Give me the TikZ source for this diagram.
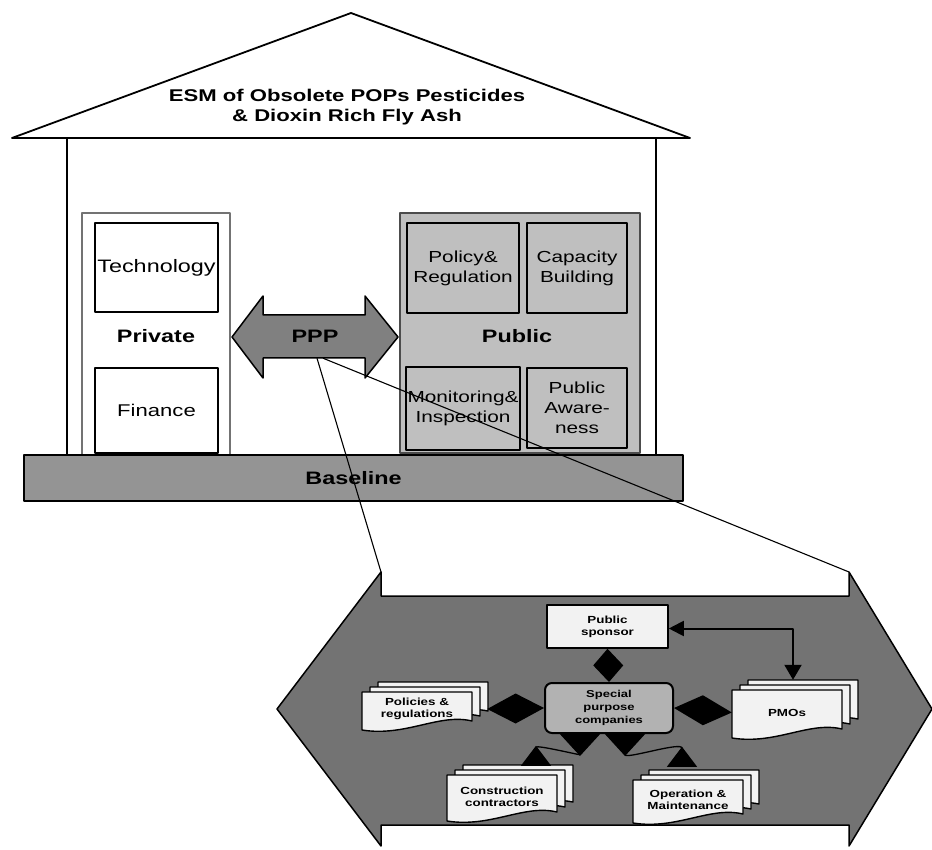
\documentclass[tikz,border=0pt]{standalone}
\usepackage{fontspec}
\setmainfont{Liberation Sans}[FakeStretch=1.3]
\usetikzlibrary{arrows.meta,calc}

% one page of a stacked document: x1 y1 (top left), x2 (right), y2 (bottom left)
\newcommand{\docpage}[4]{%
  \filldraw[docpage] ({#1},{#2}) -- ({#3},{#2}) -- ({#3},{#4-9})
    .. controls ({#3-0.3*(#3-#1)},{#4-17}) and ({#1+0.4*(#3-#1)},{#4+7}) .. ({#1},{#4}) -- cycle;}
% three pages, the back ones shifted up and to the right
\newcommand{\docstack}[4]{%
  \docpage{#1+16}{#2-10}{#3+16}{#4-10}%
  \docpage{#1+8}{#2-5}{#3+8}{#4-5}%
  \docpage{#1}{#2}{#3}{#4}}
% two-headed block arrow from tip #1 to tip #2, #3 = half width (x offset), #4 = half width (y offset)
\newcommand{\blockpair}[4]{%
  \fill[black] (#1) -- ($(#1)!0.5!(#2)+(#3,#4)$) -- (#2) -- ($(#1)!0.5!(#2)-(#3,#4)$) -- cycle;}

\begin{document}
\begin{tikzpicture}[x=1pt,y=-1pt,
  line join=round,
  docpage/.style={draw=black,line width=1.4pt,fill=black!5},
  inbox/.style={draw=black,line width=1.6pt,inner sep=0pt,align=center},
  bigtxt/.style={font=\fontsize{18}{21}\selectfont},
  midtxt/.style={font=\fontsize{16}{20}\selectfont,align=center},
  boldtxt/.style={font=\bfseries\fontsize{18}{21}\selectfont},
  smalltxt/.style={font=\bfseries\fontsize{10.3}{12}\selectfont,align=center,inner sep=0pt},
  splitarr/.style={draw=black,line width=1.3pt,
    {Triangle[reversed,length=22pt,width=40pt]}-{Triangle[reversed,length=20pt,width=30pt]}},
  thinlink/.style={draw=black,line width=2pt,
    {Triangle[length=15pt,width=15pt]}-{Triangle[length=15pt,width=17pt]}},
  zoomline/.style={draw=black,line width=1.1pt}]

\useasboundingbox (0,0) rectangle (932,850);

% ---------- the house ----------
\draw[line width=1.8pt,fill=white] (12,138) -- (351,13) -- (690,138) -- cycle;
\draw[line width=1.3pt] (67,138) -- (67,455) (656,138) -- (656,455);
\node[font=\bfseries\fontsize{17}{20}\selectfont,align=center] (title) at (347,107)
  {ESM of Obsolete POPs Pesticides\\\& Dioxin Rich Fly Ash};

% private pillar
\node[draw=black!55,line width=1.5pt,fill=white,minimum width=148pt,minimum height=242pt] (private) at (156,334) {};
\node[inbox,fill=white,minimum width=123pt,minimum height=89pt,bigtxt] (tech) at (156.5,267.5) {Technology};
\node[inbox,fill=white,minimum width=123pt,minimum height=85pt,font=\fontsize{17}{20}\selectfont] (fin) at (156.5,410.5) {Finance};
\node[boldtxt] (privlab) at (156,336) {Private};

% public pillar
\node[draw=black!70,line width=1.5pt,fill=black!25,minimum width=240pt,minimum height=240pt] (public) at (520,333) {};
\node[inbox,fill=black!25,minimum width=112pt,minimum height=90pt,midtxt] (policy) at (463,268) {Policy\&\\Regulation};
\node[inbox,fill=black!25,minimum width=100pt,minimum height=90pt,midtxt] (capa) at (577,268) {Capacity\\Building};
\node[inbox,fill=black!25,minimum width=114pt,minimum height=83pt,midtxt] (moni) at (463,408.5) {Monitoring\&\\Inspection};
\node[inbox,fill=black!25,minimum width=100pt,minimum height=80pt,midtxt] (aware) at (577,408) {Public\\Aware-\\ness};
\node[boldtxt] (publab) at (517,336) {Public};

% foundation
\node[draw=black,line width=1.5pt,fill=black!42,minimum width=659pt,minimum height=46pt,boldtxt] (base) at (353.5,478) {Baseline};

% PPP double arrow
\draw[line width=1.5pt,fill=black!50] (232,337) -- (263,296) -- (263,315) -- (365,315) -- (365,296)
  -- (398,337) -- (365,378) -- (365,358) -- (263,358) -- (263,378) -- cycle;
\node[boldtxt,minimum height=43pt,inner sep=0pt] (ppp) at (315,336.5) {PPP};

% ---------- the enlarged PPP arrow ----------
\coordinate (callL) at (381,572);
\coordinate (callR) at (849,572);
\draw[line width=1.5pt,fill=black!55] (277,709) -- (callL) -- (381,596) -- (849,596) -- (callR)
  -- (932,709) -- (849,846) -- (849,825) -- (381,825) -- (381,846) -- cycle;

% partners drawn as stacks of documents
\docstack{362}{692}{472}{730}
\docstack{447}{775}{557}{821}
\docstack{633}{780}{743}{823}
\docstack{732}{690}{842}{738}

\node[smalltxt,minimum width=110pt,minimum height=35pt] (pol) at (417,709) {Policies \&\\regulations};
\node[smalltxt,minimum width=110pt,minimum height=43pt] (cons) at (502,796.5) {Construction\\contractors};
\node[smalltxt,minimum width=110pt,minimum height=40pt] (om) at (688,800) {Operation \&\\Maintenance};
\node[smalltxt,minimum width=110pt,minimum height=45pt] (pmo) at (787,712.5) {PMOs};

\node[draw=black,line width=1.6pt,fill=black!5,smalltxt,minimum width=121pt,minimum height=43pt] (spon) at (607.5,626.5) {Public\\sponsor};
\node[draw=black,line width=2pt,fill=black!30,rounded corners=7pt,smalltxt,font=\bfseries\fontsize{10}{13}\selectfont,
  minimum width=128pt,minimum height=50pt] (spc) at (609,708) {Special\\purpose\\companies};

% links between the partners
\blockpair{spon.south}{spc.north}{15}{0}
\blockpair{$(pol.east)+(15,0)$}{spc.west}{0}{15}
\blockpair{spc.east}{pmo.west}{0}{15}
\draw[splitarr] ($(spc.south)+(-29,0)$) to[out=-90,in=90] ($(cons.north)+(34,-9)$);
\draw[splitarr] ($(spc.south)+(16,0)$) to[out=-90,in=90] ($(om.north)+(-6,-13)$);
\draw[thinlink] ($(spon.east)+(0,2)$) -| ($(pmo.north)+(6,-10)$);

% lines opening the enlargement out of the PPP arrow
\draw[zoomline] ($(ppp.south)+(2,0)$) -- (callL);
\draw[zoomline] ($(ppp.south)+(8,0)$) -- (callR);

\end{tikzpicture}
\end{document}
